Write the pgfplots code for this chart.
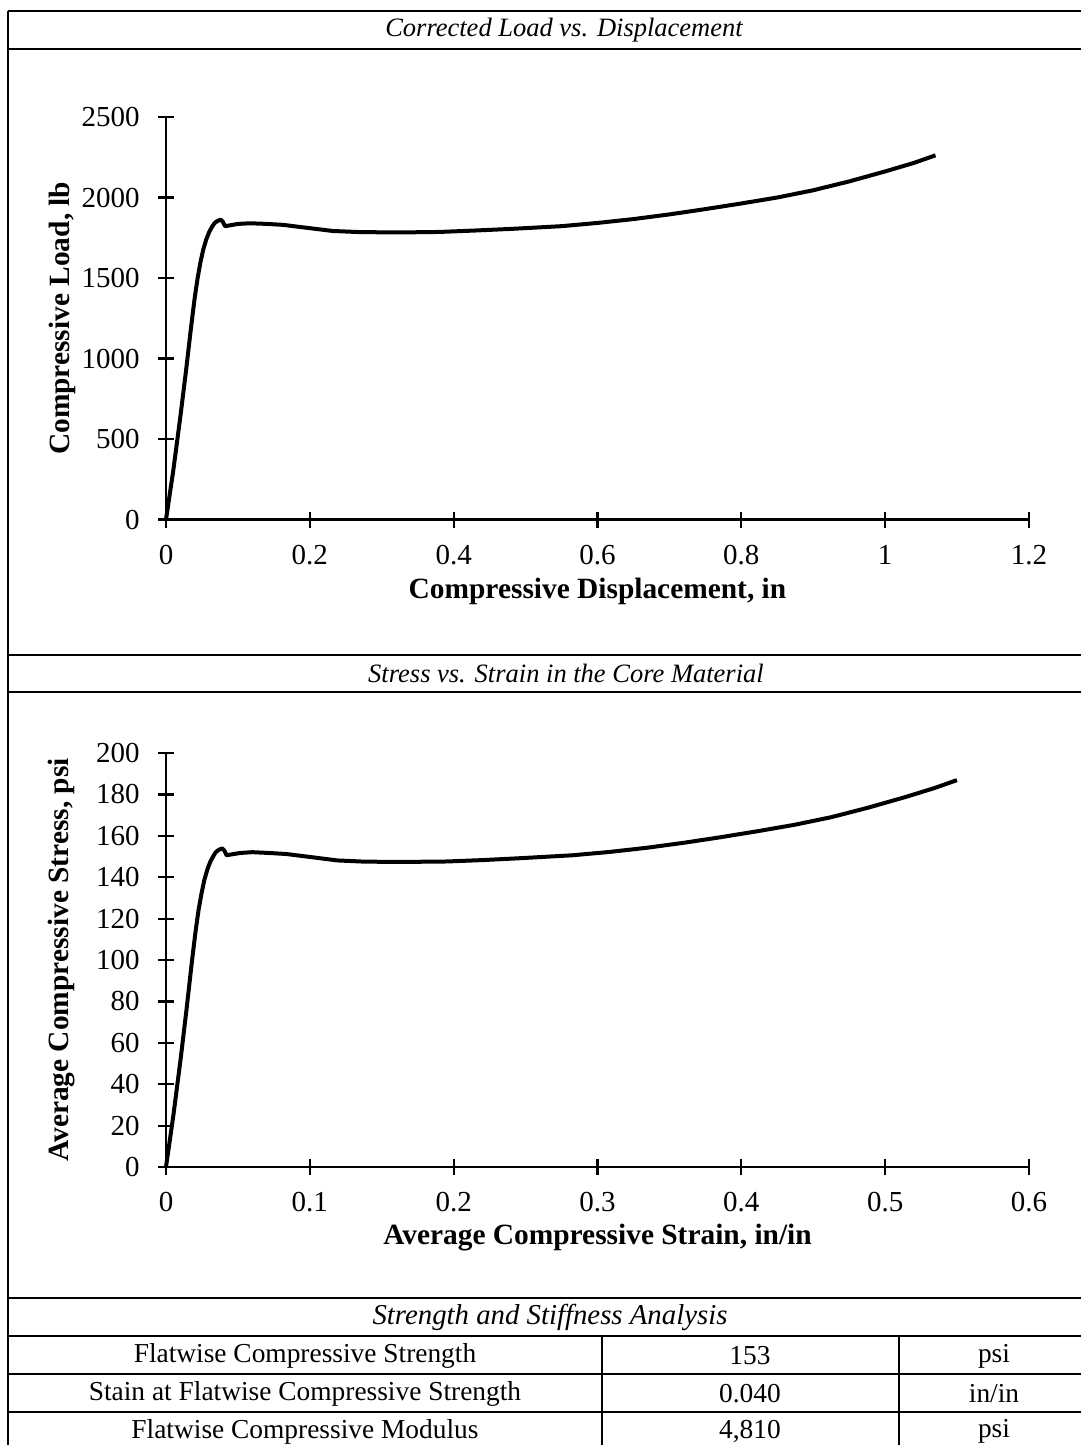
\documentclass[border=0pt]{standalone}
\usepackage{fontspec}
\setmainfont{Liberation Serif}
\usepackage{pgfplots}
\pgfplotsset{compat=1.18}
\pgfplotsset{
 excelaxis/.style={
  scale only axis, width=431.5pt,
  axis x line=bottom, axis y line=left,
  axis line style={-, line width=1.1pt},
  every tick/.style={black, line width=1.1pt},
  tick align=center, major tick length=8pt,
  xmin=0, ymin=0,
  clip=false,
  /pgf/number format/assume math mode=true,
  /pgf/number format/1000 sep={},
  tick label style={font=\fontsize{14.5}{17}\selectfont, inner sep=0pt},
  yticklabel style={xshift=-9pt},
  xticklabel style={yshift=-8.5pt},
  label style={font=\bfseries\fontsize{14.7}{17}\selectfont},
 }
}
\begin{document}
\begin{tikzpicture}
\useasboundingbox (0,0) rectangle (540.5pt,-722.5pt);
% frame lines
\begin{scope}[line width=1.3pt]
\draw (4pt,-5.5pt) -- (560pt,-5.5pt);
\draw (4pt,-24.5pt) -- (560pt,-24.5pt);
\draw (4pt,-327.5pt) -- (560pt,-327.5pt);
\draw (4pt,-346pt) -- (560pt,-346pt);
\draw (4pt,-649pt) -- (560pt,-649pt);
\draw (4pt,-668pt) -- (560pt,-668pt);
\draw (4pt,-687pt) -- (560pt,-687pt);
\draw (4pt,-706pt) -- (560pt,-706pt);
\draw (4pt,-5.5pt) -- (4pt,-740pt);
\draw (546pt,-5.5pt) -- (546pt,-740pt);
\draw (301pt,-668pt) -- (301pt,-740pt);
\draw (449.5pt,-668pt) -- (449.5pt,-740pt);
\end{scope}
\begin{scope}[every node/.style={font=\itshape\fontsize{13.25}{16}\selectfont, inner sep=0pt}]
\node at (282pt,-15pt) {Corrected Load vs. Displacement};
\node at (283pt,-336.75pt) {Stress vs. Strain in the Core Material};
\end{scope}
\node[font=\itshape\fontsize{14.4}{16}\selectfont, inner sep=0pt] at (275pt,-658.75pt) {Strength and Stiffness Analysis};
\begin{scope}[every node/.style={font=\fontsize{13.7}{16}\selectfont, inner sep=0pt}]
\node at (152.5pt,-678pt) {Flatwise Compressive Strength};
\node at (375pt,-678pt) {153};
\node at (497pt,-678pt) {psi};
\node at (152.5pt,-696.75pt) {Stain at Flatwise Compressive Strength};
\node at (375pt,-696.75pt) {0.040};
\node at (497pt,-696.75pt) {in/in};
\node at (152.5pt,-715.75pt) {Flatwise Compressive Modulus};
\node at (375pt,-715.75pt) {4,810};
\node at (497pt,-715.75pt) {psi};
\end{scope}

% chart 1
\begin{axis}[excelaxis, height=201.25pt,
  at={(83pt,-259.75pt)}, anchor=south west,
  xmax=1.2, ymax=2500,
  xtick={0,0.2,0.4,0.6,0.8,1,1.2},
  ytick={0,500,1000,1500,2000,2500},
  xlabel={Compressive Displacement, in},
  ylabel={Compressive Load, lb},
  xlabel style={at={(axis description cs:0.5,-0.178)}, anchor=center},
  ylabel style={at={(axis description cs:-0.1205,0.5)}, rotate=0, anchor=center},
]
\addplot[black, line width=2pt, line join=round] coordinates {
(0,0) (0.01,300) (0.02,640) (0.028,930) (0.035,1200) (0.040,1380) (0.044,1500) (0.048,1600)
(0.052,1680) (0.056,1740) (0.060,1785) (0.064,1818) (0.067,1838) (0.070,1850) (0.073,1857) (0.076,1862) (0.079,1850) (0.082,1822)
(0.09,1828) (0.1,1836) (0.117,1840) (0.14,1836) (0.163,1830) (0.19,1815)
(0.232,1792) (0.27,1785) (0.326,1783) (0.38,1786) (0.43,1795) (0.48,1805)
(0.55,1822) (0.6,1842) (0.65,1866) (0.7,1895) (0.75,1928) (0.8,1963)
(0.85,2000) (0.9,2045) (0.95,2100) (1.0,2162) (1.04,2215) (1.07,2262)
};
\end{axis}

% chart 2
\begin{axis}[excelaxis, height=207pt,
  at={(83pt,-583.5pt)}, anchor=south west,
  xmax=0.6, ymax=200,
  xtick={0,0.1,0.2,0.3,0.4,0.5,0.6},
  ytick={0,20,40,60,80,100,120,140,160,180,200},
  xlabel={Average Compressive Strain,  in/in},
  ylabel={Average Compressive Stress, psi},
  xlabel style={at={(axis description cs:0.5,-0.1715)}, anchor=center},
  ylabel style={at={(axis description cs:-0.1205,0.5)}, rotate=0, anchor=center},
]
\addplot[black, line width=2pt, line join=round] coordinates {
(0,0) (0.0051,24.8) (0.0103,52.9) (0.0144,76.9) (0.0180,99.2) (0.0206,114.0) (0.0226,124.0) (0.0247,132.2)
(0.0267,138.8) (0.0288,143.8) (0.0308,147.5) (0.0329,150.2) (0.0344,151.9) (0.0360,152.9) (0.0375,153.5) (0.0391,153.9)
(0.0406,152.9) (0.0421,150.6) (0.0462,151.1) (0.0514,151.7) (0.0601,152.1)
(0.0719,151.7) (0.0838,151.2) (0.0976,150.0) (0.1192,148.1) (0.1387,147.5)
(0.1675,147.4) (0.1953,147.6) (0.2210,148.3) (0.2467,149.2) (0.2826,150.6)
(0.3083,152.2) (0.3340,154.2) (0.3597,156.6) (0.3854,159.3) (0.4111,162.2)
(0.4368,165.3) (0.4625,169.0) (0.4882,173.6) (0.5139,178.7) (0.5344,183.1)
(0.5499,186.9)
};
\end{axis}
\end{tikzpicture}
\end{document}
